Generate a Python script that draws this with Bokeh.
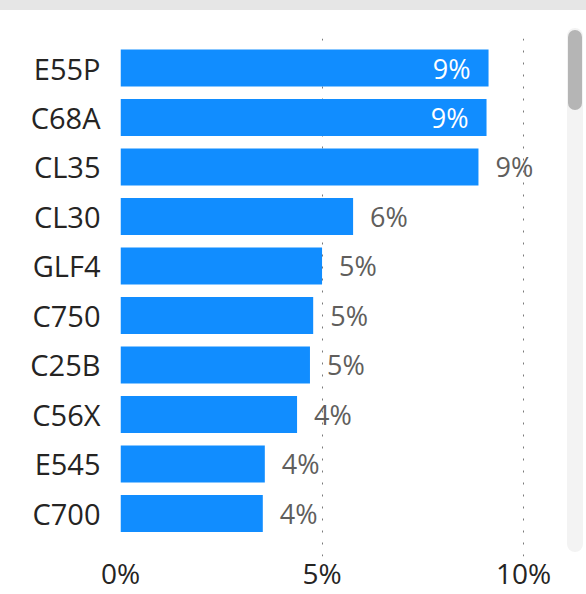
from bokeh.plotting import figure
from bokeh.models import ColumnDataSource, FixedTicker, Range1d, Div
from bokeh.layouts import column
from bokeh.embed import file_html
from bokeh.resources import INLINE
from bokeh.core.properties import value

# ---- data ----
categories = ["E55P", "C68A", "CL35", "CL30", "GLF4", "C750", "C25B", "C56X", "E545", "C700"]
shares = [9.13, 9.08, 8.88, 5.77, 5.00, 4.78, 4.70, 4.38, 3.58, 3.53]
x_ticks = [0, 5, 10]
x_tick_labels = ["0%", "5%", "10%"]

FONT = value("Open Sans")
BLUE = "#118DFF"

pos = list(range(len(categories)))
labels = [f"{round(v)}%" for v in shares]
inside = [v > 9 for v in shares]

src_all = ColumnDataSource(dict(pos=pos, share=shares, label=labels))
src_in = ColumnDataSource(dict(
    pos=[p_ for p_, f in zip(pos, inside) if f],
    share=[s for s, f in zip(shares, inside) if f],
    label=[l for l, f in zip(labels, inside) if f]))
src_out = ColumnDataSource(dict(
    pos=[p_ for p_, f in zip(pos, inside) if not f],
    share=[s for s, f in zip(shares, inside) if not f],
    label=[l for l, f in zip(labels, inside) if not f]))

p = figure(width=586, height=594, output_backend="svg", toolbar_location=None,
           x_range=Range1d(0, 11.56), y_range=Range1d(9.869, -0.596),
           min_border_left=120, min_border_right=0, min_border_top=38,
           min_border_bottom=38)
p.outline_line_color = None
p.background_fill_color = "white"
p.border_fill_color = "white"

# gridlines
p.ygrid.visible = False
p.xgrid.ticker = FixedTicker(ticks=x_ticks)
p.xgrid.grid_line_color = "#7a7a7a"
p.xgrid.grid_line_dash = "2 10"
p.xgrid.grid_line_width = 1

# axes
p.xaxis.ticker = FixedTicker(ticks=x_ticks)
p.xaxis.major_label_overrides = {t: l for t, l in zip(x_ticks, x_tick_labels)}
p.yaxis.ticker = FixedTicker(ticks=pos)
p.yaxis.major_label_overrides = {i: c for i, c in zip(pos, categories)}
for ax in (p.xaxis, p.yaxis):
    ax.axis_line_color = None
    ax.major_tick_line_color = None
    ax.minor_tick_line_color = None
    ax.major_tick_out = 0
    ax.major_tick_in = 0
    ax.major_label_text_font = "Open Sans"
    ax.major_label_text_color = "#252423"
p.xaxis.major_label_text_font_size = "28px"
p.xaxis.major_label_standoff = -3
p.yaxis.major_label_text_font_size = "29px"
p.yaxis.major_label_standoff = 20

# bars
p.hbar(y="pos", left=0, right="share", height=0.75, source=src_all,
       fill_color=BLUE, line_color=None)

# value labels
p.text(x="share", y="pos", text="label", source=src_in, x_offset=-18,
       text_align="right", text_baseline="middle", text_color="white",
       text_font=FONT, text_font_size="27px")
p.text(x="share", y="pos", text="label", source=src_out, x_offset=17,
       text_align="left", text_baseline="middle", text_color="#605E5C",
       text_font=FONT, text_font_size="27px")

# page decorations: top band and scrollbar of the surrounding report
band = Div(text="", width=586, height=10, margin=(0, 0, 0, 0),
           styles={"position": "fixed", "top": "0px", "left": "0px",
                   "margin": "0px", "width": "586px", "height": "10px",
                   "background-color": "#E6E6E6", "z-index": "10"})
track = Div(text="", width=16, height=524, margin=(0, 0, 0, 0),
            styles={"position": "fixed", "top": "28px", "left": "567px",
                    "margin": "0px", "width": "16px", "height": "524px",
                    "background-color": "#F3F3F3", "border-radius": "8px",
                    "z-index": "10"})
thumb = Div(text="", width=14, height=80, margin=(0, 0, 0, 0),
            styles={"position": "fixed", "top": "30px", "left": "568px",
                    "margin": "0px", "width": "14px", "height": "80px",
                    "background-color": "#B5B5B5", "border-radius": "7px",
                    "z-index": "11"})

layout = column(band, track, thumb, p)
open("out.html", "w").write(file_html(layout, INLINE))
